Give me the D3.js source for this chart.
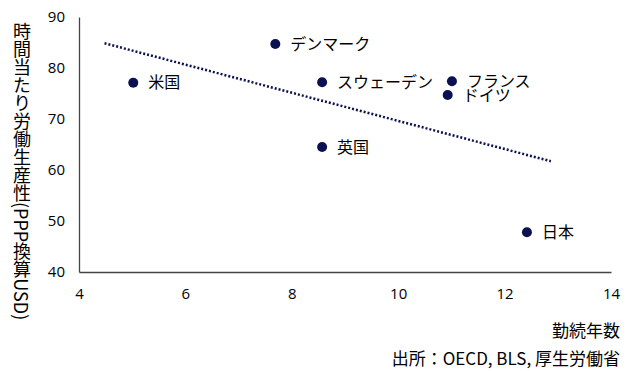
<!DOCTYPE html>
<html>
<head>
<meta charset="utf-8">
<script src="https://cdn.jsdelivr.net/npm/d3@7"></script>
<style>
  body { margin: 0; background: #fff; }
  text { font-family: "Noto Sans CJK JP", "Noto Sans", sans-serif; fill: #000; }
  .tick-label { font-family: "Open Sans", "Noto Sans", sans-serif; font-size: 15px; }
</style>
</head>
<body>
<script>
// countries, tenure (years) and hourly productivity (PPP USD)
const countries = ['米国', 'デンマーク', 'スウェーデン', 'フランス', 'ドイツ', '英国', '日本'];
const tenure = [5.02, 7.69, 8.57, 11.01, 10.93, 8.57, 12.42];
const productivity = [77.1, 84.7, 77.2, 77.4, 74.7, 64.5, 47.8];
const xTicks = [4, 6, 8, 10, 12, 14];
const yTicks = [40, 50, 60, 70, 80, 90];
const trendRange = [4.48, 12.87];

const w = 631,
  h = 371;
const navy = '#0b1050';

const svg = d3.select('body').append('svg').attr('width', w).attr('height', h);

const x = d3.scaleLinear().domain([4, 14]).range([79, 611]);
const y = d3.scaleLinear().domain([40, 90]).range([272, 17]);

// axis lines only, labels drawn by axis generators
const xAxis = d3.axisBottom(x).tickValues(xTicks).tickSize(0).tickPadding(16);
svg
  .append('g')
  .attr('transform', `translate(0, ${y(40)})`)
  .call(xAxis)
  .call(g => g.select('.domain').attr('stroke', '#444').attr('stroke-width', 1.3))
  .selectAll('text')
  .attr('class', 'tick-label');

const yAxis = d3.axisLeft(y).tickValues(yTicks).tickSize(0).tickPadding(14);
svg
  .append('g')
  .attr('transform', `translate(${x(4)}, 0)`)
  .call(yAxis)
  .call(g => g.select('.domain').attr('stroke', '#444').attr('stroke-width', 1.3))
  .selectAll('text')
  .attr('class', 'tick-label');

svg.selectAll('.tick-label').attr('font-family', null).attr('font-size', null).attr('fill', '#000');

// linear trend line from the data
const n = tenure.length;
const mx = d3.mean(tenure),
  my = d3.mean(productivity);
let sxy = 0,
  sxx = 0;
for (let i = 0; i < n; i++) {
  sxy += (tenure[i] - mx) * (productivity[i] - my);
  sxx += (tenure[i] - mx) ** 2;
}
const slope = sxy / sxx;
const fit = v => my + slope * (v - mx);

svg
  .append('line')
  .attr('x1', x(trendRange[0]))
  .attr('y1', y(fit(trendRange[0])))
  .attr('x2', x(trendRange[1]))
  .attr('y2', y(fit(trendRange[1])))
  .attr('stroke', navy)
  .attr('stroke-width', 2.5)
  .attr('stroke-dasharray', '2 2');

const points = countries.map((c, i) => ({ name: c, tx: tenure[i], py: productivity[i] }));

svg
  .selectAll('circle')
  .data(points)
  .enter()
  .append('circle')
  .attr('cx', d => x(d.tx))
  .attr('cy', d => y(d.py))
  .attr('r', 5)
  .attr('fill', navy);

svg
  .selectAll('.label')
  .data(points)
  .enter()
  .append('text')
  .attr('class', 'label')
  .attr('x', d => x(d.tx) + 15)
  .attr('y', d => y(d.py))
  .attr('dy', '0.35em')
  .attr('font-size', 16)
  .text(d => d.name);

// titles
svg
  .append('text')
  .attr('x', 22)
  .attr('y', 22)
  .attr('font-size', 18)
  .style('writing-mode', 'vertical-rl')
  .text('時間当たり労働生産性(PPP換算USD)');

svg
  .append('text')
  .attr('x', 620)
  .attr('y', 337)
  .attr('text-anchor', 'end')
  .attr('font-size', 17)
  .text('勤続年数');

svg
  .append('text')
  .attr('x', 620)
  .attr('y', 365)
  .attr('text-anchor', 'end')
  .attr('font-size', 17)
  .text('出所：OECD, BLS, 厚生労働省');
</script>
</body>
</html>
